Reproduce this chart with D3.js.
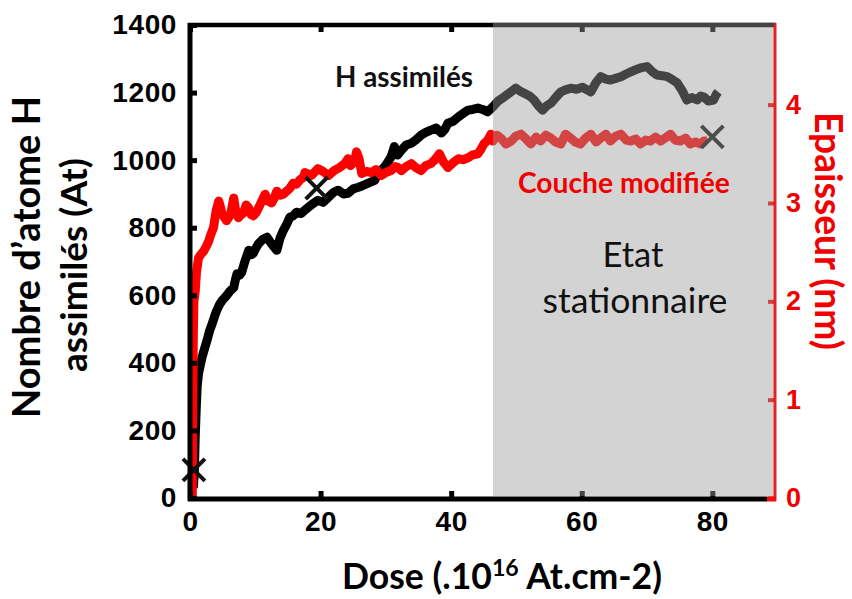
<!DOCTYPE html>
<html><head><meta charset="utf-8">
<script src="https://cdn.jsdelivr.net/npm/d3@7"></script>
<style>body{margin:0;background:#fff}svg{display:block}
.tk text{font-family:"Liberation Sans",Arial,sans-serif !important;font-weight:bold}</style>
</head><body><svg id="c" width="852" height="599"></svg>
<script>
// ---- data ----
const hDose = [0.5,0.66,0.8,0.96,1.1,1.3,1.6,1.83,2.2,2.6,3.0,3.4,3.8,4.1,4.5,4.9,5.3,5.6,6.1,6.7,7.0,7.2,7.6,7.9,8.4,9.0,9.4,9.7,10.1,10.5,11.1,11.8,12.5,13.3,13.8,14.3,14.8,15.3,15.8,16.3,17.0,17.6,18.6,19.6,20.4,21.2,22.0,22.7,23.5,24.2,25.0,25.8,26.5,27.3,28.3,28.8,29.3,30.0,30.8,31.3,31.8,32.4,33.1,33.9,34.6,35.4,36.1,36.9,37.7,38.5,39.0,39.5,40.3,41.1,41.8,42.6,43.3,44.1,44.8,45.6,46.4,47.2,48.1,49.0,49.9,50.5,51.2,52.0,52.7,53.4,54.0,54.6,55.3,56.0,56.8,57.5,58.3,59.2,60.1,60.8,61.4,62.2,62.9,63.7,64.4,65.2,66.0,66.8,67.5,68.3,69.0,70.0,70.8,71.5,72.3,73.1,73.9,74.6,75.4,76.1,76.9,77.7,78.2,78.7,79.4,80.2,80.6,80.9];
const hValue = [30,71,180,267,330,368,395,415,440,466,495,516,540,555,572,584,592,599,612,623,650,664,660,667,700,733,720,724,740,753,765,772,752,733,770,792,810,831,835,846,842,852,868,881,875,890,905,911,900,902,915,920,925,932,940,960,970,985,1010,1040,1015,1030,1045,1050,1060,1074,1082,1089,1095,1080,1090,1109,1115,1128,1138,1148,1150,1154,1150,1143,1158,1175,1187,1200,1213,1205,1198,1190,1178,1160,1148,1160,1169,1185,1202,1208,1213,1210,1216,1208,1202,1230,1247,1240,1237,1242,1247,1255,1261,1268,1273,1277,1262,1252,1250,1247,1238,1229,1205,1178,1185,1178,1190,1187,1175,1178,1195,1202];
const eDose = [0.35,0.4,0.5,0.6,0.8,1.0,1.3,1.7,2.1,2.5,2.85,3.2,3.6,4.0,4.4,4.7,4.9,5.3,5.6,6.2,6.7,7.0,7.4,7.8,8.2,8.6,9.0,9.4,9.7,10.1,10.5,11.0,11.5,12.0,12.5,12.9,13.3,13.8,14.3,14.8,15.3,15.8,16.3,16.9,17.4,17.6,18.6,19.6,20.4,21.2,22.1,22.9,23.7,24.2,24.6,25.2,25.5,25.9,26.3,27.0,27.8,28.5,29.3,30.0,30.8,31.4,31.9,32.4,33.1,33.9,34.6,35.4,36.1,36.9,37.5,38.2,38.8,39.5,40.3,41.1,41.8,42.6,43.3,44.1,44.6,45.0,45.6,46.1,46.4,47.0,47.6,48.4,49.2,49.9,50.7,51.5,52.2,53.0,53.7,54.5,55.3,56.0,56.8,57.5,58.3,59.0,59.8,60.6,61.4,62.2,62.9,63.7,64.4,65.2,66.0,66.8,67.5,68.3,69.0,69.8,70.5,71.3,72.1,72.8,73.6,74.3,75.1,75.9,76.6,77.4,78.2,78.7,79.2];
const eValue = [0,0.8,1.6,2.0,2.1,2.3,2.44,2.48,2.51,2.56,2.61,2.68,2.75,2.92,3.02,2.95,2.89,2.85,2.82,2.88,3.05,2.92,2.85,2.88,2.90,2.98,2.95,2.88,2.87,2.90,2.95,3.02,3.09,3.02,3.0,3.05,3.12,3.08,3.09,3.12,3.15,3.2,3.19,3.24,3.26,3.31,3.28,3.35,3.32,3.28,3.33,3.36,3.40,3.45,3.38,3.42,3.52,3.45,3.30,3.32,3.31,3.34,3.28,3.31,3.33,3.37,3.36,3.33,3.37,3.40,3.36,3.33,3.38,3.40,3.44,3.50,3.42,3.36,3.41,3.45,3.44,3.46,3.49,3.50,3.55,3.60,3.64,3.70,3.63,3.69,3.66,3.60,3.63,3.68,3.70,3.65,3.60,3.67,3.63,3.69,3.66,3.62,3.60,3.70,3.66,3.62,3.60,3.66,3.70,3.62,3.66,3.70,3.63,3.68,3.70,3.64,3.63,3.65,3.60,3.64,3.63,3.67,3.63,3.66,3.70,3.64,3.63,3.66,3.60,3.62,3.60,3.63,3.63];
const markerDose = [0.6, 19.4, 80];
const markerValue = [83, 917, 1069];
const xTicks = [0, 20, 40, 60, 80];
const leftTicks = [0, 200, 400, 600, 800, 1000, 1200, 1400];
const rightTicks = [0, 1, 2, 3, 4];
const stationaryStart = 46.4;
const xMax = 89.6, leftMax = 1400, rightMax = 4.81;

// ---- layout ----
const svg = d3.select('#c');
const L = 190, R = 775, T = 25, B = 498;
const x = d3.scaleLinear().domain([0, xMax]).range([L, R]);
const y = d3.scaleLinear().domain([0, leftMax]).range([B, T]);
const yR = d3.scaleLinear().domain([0, rightMax]).range([B, T]);
const RED = '#f00000';
const txtFont = 'Lato, "Open Sans", sans-serif';
const fmt = d3.format('d');

// series
const hData = hDose.map((d, i) => [d, hValue[i]]);
const eData = eDose.map((d, i) => [d, eValue[i]]);
svg.append('path').datum(hData)
  .attr('d', d3.line().x(d => x(d[0])).y(d => y(d[1])))
  .attr('fill', 'none').attr('stroke', '#000').attr('stroke-width', 9)
  .attr('stroke-linejoin', 'round');
svg.append('path').datum(eData)
  .attr('d', d3.line().x(d => x(d[0])).y(d => yR(d[1])))
  .attr('fill', 'none').attr('stroke', '#ff0000').attr('stroke-width', 9)
  .attr('stroke-linejoin', 'round');

// markers
const mk = svg.append('g');
markerDose.forEach((d, i) => {
  const cx = x(d), cy = y(markerValue[i]), a = 11;
  mk.append('path').attr('d', `M${cx-a},${cy-a}L${cx+a},${cy+a}M${cx-a},${cy+a}L${cx+a},${cy-a}`)
    .attr('stroke', '#111').attr('stroke-width', 4).attr('fill', 'none');
});

// axes
function styleAxis(g, color, w, fs) {
  g.attr('class', 'tk').attr('font-family', null);
  g.select('.domain').remove();
  g.selectAll('.tick line').attr('stroke', color).attr('stroke-width', w);
  g.selectAll('.tick text').attr('fill', color).attr('font-size', fs);
}
const gl = svg.append('g').attr('transform', `translate(${L},0)`)
  .call(d3.axisLeft(y).tickValues(leftTicks).tickFormat(fmt).tickSizeInner(-7).tickSizeOuter(0).tickPadding(13));
styleAxis(gl, '#000', 5, 28);
gl.selectAll('.tick text').attr('letter-spacing', 0.6);
const gb = svg.append('g').attr('transform', `translate(0,${B})`)
  .call(d3.axisBottom(x).tickValues(xTicks).tickFormat(fmt).tickSizeInner(-7).tickSizeOuter(0).tickPadding(13));
styleAxis(gb, '#000', 5, 28);
gb.selectAll('.tick text').attr('letter-spacing', 0.6);
const gt = svg.append('g').attr('transform', `translate(0,${T})`)
  .call(d3.axisTop(x).tickValues(xTicks).tickSizeInner(-7).tickSizeOuter(0).tickFormat(''));
styleAxis(gt, '#000', 5, 28);
const gr = svg.append('g').attr('transform', `translate(${R},0)`)
  .call(d3.axisRight(yR).tickValues(rightTicks).tickFormat(fmt).tickSizeInner(-7).tickSizeOuter(0).tickPadding(11));
styleAxis(gr, RED, 4, 27);

// frame lines
svg.append('line').attr('x1', L).attr('x2', L).attr('y1', T - 2).attr('y2', B + 3)
  .attr('stroke', '#000').attr('stroke-width', 5);
svg.append('line').attr('x1', L - 2).attr('x2', R + 1).attr('y1', T).attr('y2', T)
  .attr('stroke', '#000').attr('stroke-width', 4.5);
svg.append('line').attr('x1', L - 2).attr('x2', R - 8).attr('y1', B + 1).attr('y2', B + 1)
  .attr('stroke', '#000').attr('stroke-width', 5);

// stationary-state overlay
svg.append('rect').attr('x', x(stationaryStart)).attr('y', T - 3)
  .attr('width', R - 1.5 - x(stationaryStart)).attr('height', B - 2 - (T - 3))
  .attr('fill', 'rgb(155,155,155)').attr('fill-opacity', 0.44);

// right axis line
svg.append('line').attr('x1', R).attr('x2', R).attr('y1', T - 2).attr('y2', B + 3)
  .attr('stroke', '#e42222').attr('stroke-width', 3);
svg.append('line').attr('x1', R - 8).attr('x2', R + 1).attr('y1', B + 1).attr('y2', B + 1)
  .attr('stroke', '#ee1111').attr('stroke-width', 5);

// text helpers
function fit(sel, w) {
  const n = sel.node();
  const cur = n.getComputedTextLength();
  const fs = parseFloat(sel.attr('font-size'));
  sel.attr('font-size', fs * w / cur);
  return sel;
}
function label(str, xx, yy, opts) {
  const t = svg.append('text').attr('x', xx).attr('y', yy)
    .attr('font-family', txtFont).attr('font-size', 30)
    .attr('font-weight', opts.weight || 'bold').attr('fill', opts.fill || '#000')
    .attr('text-anchor', opts.anchor || 'start').text(str);
  if (opts.rotate) t.attr('transform', `rotate(${opts.rotate},${xx},${yy})`);
  if (opts.width) fit(t, opts.width);
  return t;
}
label('H assimilés', 335, 87, { width: 138, fill: '#111' });
label('Couche modifiée', 518, 193, { width: 212, fill: RED });
label('Etat', 633, 267, { weight: 'normal', anchor: 'middle', width: 61, fill: '#111' });
label('stationnaire', 635, 313, { weight: 'normal', anchor: 'middle', width: 185, fill: '#111' });
label('Nombre d\u2019atome H', 40, 257, { anchor: 'middle', rotate: -90, width: 322 });
label('assimilés (At)', 87, 265, { anchor: 'middle', rotate: -90, width: 214 });
label('Epaisseur (nm)', 815, 231, { anchor: 'middle', rotate: 90, width: 238, fill: RED });

// x title with superscript
const xt = svg.append('text').attr('x', 502).attr('y', 589)
  .attr('font-family', txtFont).attr('font-size', 30).attr('font-weight', 'bold')
  .attr('text-anchor', 'middle').attr('fill', '#000');
xt.append('tspan').text('Dose (.10');
xt.append('tspan').attr('font-size', '0.65em').attr('dy', '-0.55em').text('16');
xt.append('tspan').attr('dy', '0.36em').text(' At.cm-2)');
fit(xt, 320);
</script></body></html>
